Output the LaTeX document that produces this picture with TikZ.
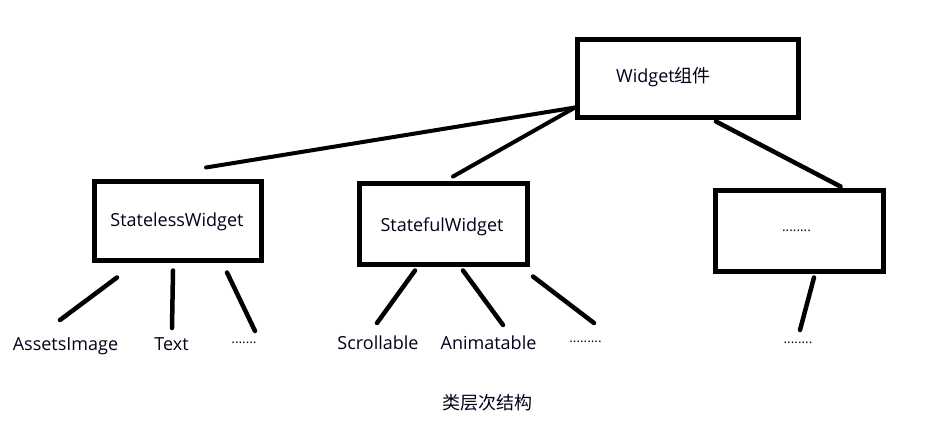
\documentclass[tikz,border=0pt]{standalone}
\usepackage{fontspec}
\setmainfont{Open Sans}
\newfontfamily\cjk{Noto Sans CJK SC}
\usetikzlibrary{calc}
\tikzset{
  box/.style={draw=black, line width=5pt, inner sep=0pt, minimum width=168pt, minimum height=81pt},
  lbl/.style={inner sep=0pt, anchor=base, font=\fontsize{18}{20}\selectfont, text=black!90!blue},
  dots/.style={inner sep=0pt, anchor=center, font=\fontsize{13.5}{15}\selectfont, text=black!90!blue},
  conn/.style={draw=black, line width=4.5pt, line cap=round}
}
\begin{document}
\begin{tikzpicture}[x=1pt,y=-1pt]
\useasboundingbox[fill=white] (0,0) rectangle (947,432);
% boxes
\node[box, minimum width=221pt, minimum height=78pt] (W) at (688,78.5) {};
\node[box, minimum width=167pt, minimum height=79pt] (SL) at (178,221) {};
\node[box] (SF) at (443.5,224) {};
\node[box] (R) at (799.5,231) {};
% box texts
\node[lbl] (Wt) at (663.5,82) {Widget{\cjk 组件}};
\node[lbl] (SLt) at (177,226) {StatelessWidget};
\node[lbl] (SFt) at (442,231) {StatefulWidget};
\node[dots] (Rt) at (796.5,231) {........};
% leaf labels
\node[lbl] (ai) at (65.5,350) {AssetsImage};
\node[lbl] (tx) at (171.5,350.5) {Text};
\node[dots] (d1) at (244,343) {.......};
\node[lbl] (sc) at (378,349) {Scrollable};
\node[lbl] (an) at (488.5,349) {Animatable};
\node[dots] (d2) at (585.5,342) {.........};
\node[dots] (d3) at (798,343) {........};
\node[lbl, anchor=center, font=\cjk\fontsize{18}{20}\selectfont] (cap) at (487.5,402.5) {类层次结构};
% free ends
\coordinate (e1) at (60,320);
\coordinate (e2) at (172,328);
\coordinate (e3) at (255,331);
\coordinate (e4) at (377,323);
\coordinate (e5) at (503,325);
\coordinate (e6) at (594,323);
\coordinate (e7) at (800,330);
% top connectors
\draw[conn, line width=4pt] ($(W.south west)+(0,-12.5)$) -- ($(SL.north)+(28,-11.5)$);
\draw[conn, line width=4pt] ($(W.south west)+(0,-12.5)$) -- ($(SF.north)+(9.5,-4.5)$);
\draw[conn] ($(W.south)+(28,1.5)$) -- ($(R.north)+(41,-1.5)$);
% child connectors
\draw[conn] ($(SL.south)+(-61,14.5)$) -- (e1);
\draw[conn] ($(SL.south)+(-5,7.5)$) -- (e2);
\draw[conn] ($(SL.south)+(49,9.5)$) -- (e3);
\draw[conn] ($(SF.south)+(-28.5,3.5)$) -- (e4);
\draw[conn] ($(SF.south)+(19.5,3.5)$) -- (e5);
\draw[conn] ($(SF.south)+(89.5,9.5)$) -- (e6);
\draw[conn] ($(R.south)+(14.5,3.5)$) -- (e7);
\end{tikzpicture}
\end{document}
